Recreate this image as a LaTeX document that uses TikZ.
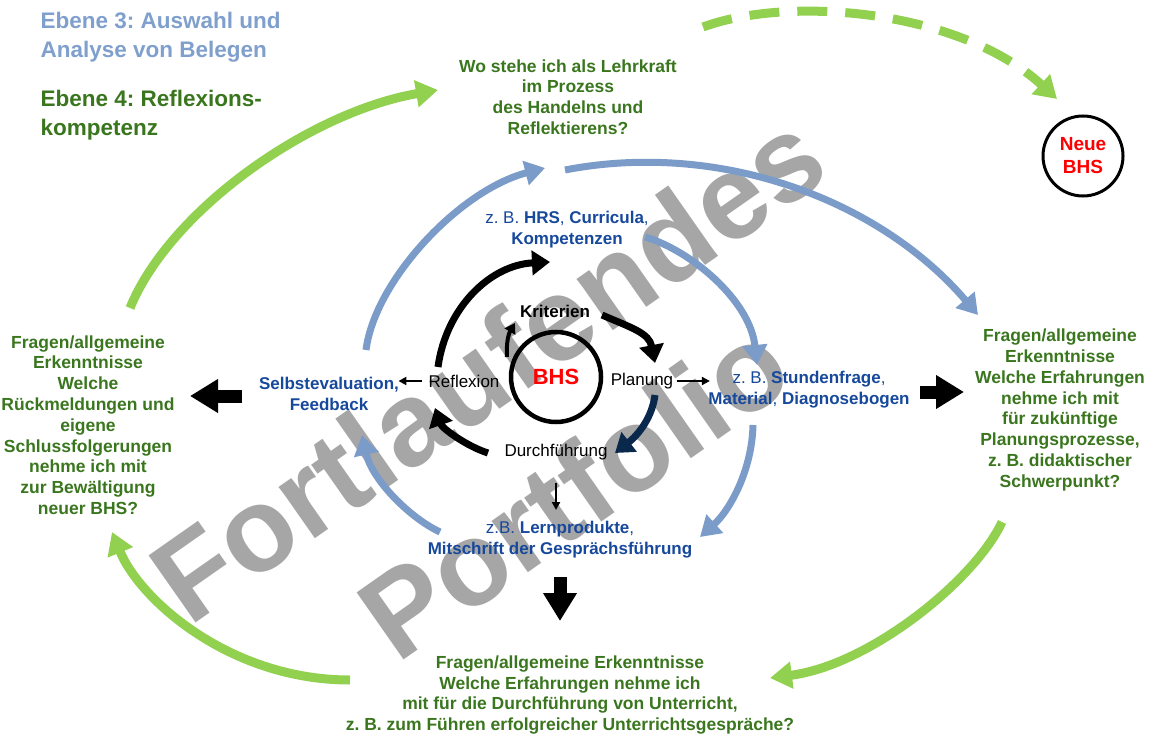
\documentclass[tikz,border=0pt]{standalone}
\usepackage{fontspec}
\setmainfont{Liberation Sans}
\usetikzlibrary{arrows.meta}
\frenchspacing

\definecolor{titleblue}{RGB}{127,159,204}
\definecolor{arcblue}{RGB}{123,156,200}
\definecolor{textgreen}{RGB}{58,118,30}
\definecolor{arcgreen}{RGB}{146,208,80}
\definecolor{labelblue}{RGB}{22,72,155}
\definecolor{navy}{RGB}{10,40,75}
\definecolor{markgray}{RGB}{166,166,166}
\definecolor{bhsred}{RGB}{255,0,0}

\begin{document}
\begin{tikzpicture}[x=1pt, y=-1pt,
    question/.style={align=center, text=textgreen, font=\fontsize{17.5}{20.8}\selectfont\bfseries},
    example/.style={align=center, text=labelblue, font=\fontsize{17}{21}\selectfont},
    phase/.style={font=\fontsize{17}{20}\selectfont},
    level/.style={anchor=west, align=left, font=\fontsize{22.5}{28.5}\selectfont\bfseries},
    bluearc/.style={arcblue, line width=7pt, -{Triangle[length=20pt,width=24pt]}},
    greenarc/.style={arcgreen, line width=9pt, -{Triangle[length=22pt,width=26pt]}},
    cyclearc/.style={line width=7pt, -{Triangle[length=18pt,width=24pt]}},
    thinarrow/.style={line width=2pt, -{Triangle[length=8pt,width=8pt]}},
    blockarrow/.style={line width=13pt, -{Triangle[length=28pt,width=32pt]}}
]
    \useasboundingbox (0,0) rectangle (1155,735);

    % Watermark behind everything
    \node[rotate=35, align=center, text=markgray,
          font=\fontsize{119}{150}\selectfont\bfseries] (mark) at (530,428) {Fortlaufendes\\Portfolio};

    % Define coordinates
    \coordinate (g1a) at (130,308);  \coordinate (g1b) at (438,90);
    \coordinate (g2a) at (703,27);   \coordinate (g2b) at (1057,99);
    \coordinate (g3a) at (1002,522); \coordinate (g3b) at (770,678);
    \coordinate (g4a) at (350,680);  \coordinate (g4b) at (112,532);
    \coordinate (b1a) at (366,350);  \coordinate (b1b) at (545,168);
    \coordinate (b2a) at (565,170);  \coordinate (b2b) at (978,315);
    \coordinate (b3a) at (645,237);  \coordinate (b3b) at (757,365);
    \coordinate (b4a) at (753,425);  \coordinate (b4b) at (700,537);
    \coordinate (b5a) at (440,532);  \coordinate (b5b) at (362,435);
    \coordinate (k1a) at (438,367);  \coordinate (k1b) at (550,262);
    \coordinate (k2a) at (602,315);  \coordinate (k2b) at (655,363);
    \coordinate (k3a) at (655,395);  \coordinate (k3b) at (615,453);
    \coordinate (k4a) at (488,453);  \coordinate (k4b) at (435,408);
    \coordinate (k5a) at (507,357);  \coordinate (k5b) at (515,323);
    \coordinate (la1) at (242,396);  \coordinate (la2) at (190,396);
    \coordinate (ra1) at (920,392);  \coordinate (ra2) at (964,392);
    \coordinate (da1) at (560,577);  \coordinate (da2) at (560,621);

    % Levels
    \node[level, text=titleblue] (ebene3) at (37,37) {Ebene 3: Auswahl und\\Analyse von Belegen};
    \node[level, text=textgreen] (ebene4) at (37,115) {Ebene 4: Reflexions-\\kompetenz};

    % Questions
    \node[question] (wo) at (568,97) {Wo stehe ich als Lehrkraft\\im Prozess\\des Handelns und\\Reflektierens?};
    \node[question] (links) at (88,425) {Fragen/allgemeine\\Erkenntnisse\\Welche\\Rückmeldungen und\\eigene\\Schlussfolgerungen\\nehme ich mit\\zur Bewältigung\\neuer BHS?};
    \node[question] (rechts) at (1060,410) {Fragen/allgemeine\\Erkenntnisse\\Welche Erfahrungen\\nehme ich mit\\für zukünftige\\Planungsprozesse,\\z. B. didaktischer\\Schwerpunkt?};
    \node[question] (unten) at (570,695) {Fragen/allgemeine Erkenntnisse\\Welche Erfahrungen nehme ich\\mit für die Durchführung von Unterricht,\\z. B. zum Führen erfolgreicher Unterrichtsgespräche?};

    % Examples
    \node[example] (hrs) at (567,230) {z. B. \textbf{HRS}, \textbf{Curricula},\\\textbf{Kompetenzen}};
    \node[example] (selbst) at (329,394) {\textbf{Selbstevaluation,}\\\textbf{Feedback}};
    \node[example] (stund) at (809,390) {z. B. \textbf{Stundenfrage},\\\textbf{Material}, \textbf{Diagnosebogen}};
    \node[example] (lern) at (560,540) {z.B. \textbf{Lernprodukte},\\\textbf{Mitschrift der Gesprächsführung}};

    % Cycle
    \node[circle, draw, line width=4.5pt, minimum size=90pt, inner sep=0pt,
          text=bhsred, font=\fontsize{22}{24}\selectfont\bfseries] (bhs) at (556,377) {BHS};
    \node[phase, font=\fontsize{17}{20}\selectfont\bfseries] (krit) at (555,311) {Kriterien};
    \node[phase] (refl) at (464,381) {Reflexion};
    \node[phase] (plan) at (642,381) {Planung};
    \node[phase] (durch) at (556,452) {Durchführung};

    % New BHS
    \node[circle, draw, line width=3pt, minimum size=80pt, inner sep=0pt, align=center,
          text=bhsred, font=\fontsize{19}{23}\selectfont\bfseries] (neu) at (1083,156) {Neue\\BHS};

    % Green arcs
    \draw[greenarc] (g1a) .. controls (170,210) and (310,112) .. (g1b);
    \draw[greenarc, dash pattern=on 30pt off 18pt] (g2a) .. controls (790,-5) and (960,10) .. (g2b);
    \draw[greenarc] (g3a) .. controls (975,580) and (870,665) .. (g3b);
    \draw[greenarc] (g4a) .. controls (230,680) and (140,600) .. (g4b);

    % Blue arcs
    \draw[bluearc] (b1a) .. controls (375,280) and (460,190) .. (b1b);
    \draw[bluearc] (b2a) .. controls (720,140) and (880,200) .. (b2b);
    \draw[bluearc] (b3a) .. controls (690,250) and (750,300) .. (b3b);
    \draw[bluearc] (b4a) .. controls (752,470) and (730,510) .. (b4b);
    \draw[bluearc] (b5a) .. controls (410,518) and (372,480) .. (b5b);

    % Black cycle arcs
    \draw[cyclearc] (k1a) .. controls (446,308) and (490,265) .. (k1b);
    \draw[cyclearc] (k2a) .. controls (632,328) and (649,333) .. (k2b);
    \draw[cyclearc, navy] (k3a) .. controls (652,418) and (638,435) .. (k3b);
    \draw[cyclearc] (k4a) .. controls (466,446) and (442,428) .. (k4b);
    \draw[line width=4pt, -{Triangle[length=10pt,width=12pt]}] (k5a) .. controls (506,342) and (509,333) .. (k5b);

    % Thin arrows
    \draw[thinarrow, shorten <=3pt, shorten >=-4pt] (refl.west) -- (refl.west -| selbst.east);
    \draw[thinarrow, shorten >=-5pt] (plan.east) -- (plan.east -| stund.west);
    \draw[thinarrow, shorten <=20pt, shorten >=8pt] (durch.south) -- (durch.south |- lern.north);

    % Block arrows
    \draw[blockarrow] (la1) -- (la2);
    \draw[blockarrow] (ra1) -- (ra2);
    \draw[blockarrow] (da1) -- (da2);
\end{tikzpicture}
\end{document}
